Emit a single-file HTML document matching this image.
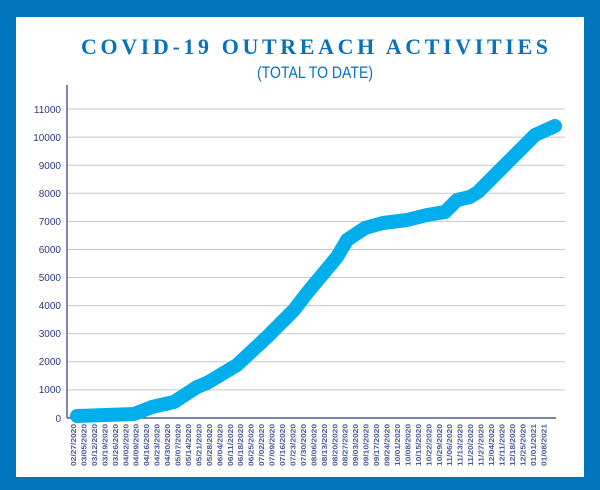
<!DOCTYPE html>
<html><head><meta charset="utf-8"><style>
body{margin:0;width:600px;height:490px;overflow:hidden;background:#0075be;}
</style></head><body>
<svg width="600" height="490" xmlns="http://www.w3.org/2000/svg" style="position:absolute;left:0;top:0">
<rect x="0" y="0" width="600" height="490" fill="#0075be"/>
<rect x="16" y="17" width="568" height="460" fill="#fff"/>
<text x="81" y="54" textLength="467" lengthAdjust="spacing" font-family="Liberation Serif, serif" font-weight="bold" font-size="22" fill="#0a72b8">COVID-19 OUTREACH ACTIVITIES</text>
<text x="257" y="78" textLength="116" lengthAdjust="spacingAndGlyphs" font-family="Liberation Sans, sans-serif" font-size="17" fill="#0a72b8">(TOTAL TO DATE)</text>
<g stroke="#c8c8c8" stroke-width="1">
<line x1="67" x2="565" y1="109" y2="109"/><line x1="67" x2="565" y1="137.1" y2="137.1"/><line x1="67" x2="565" y1="165.2" y2="165.2"/><line x1="67" x2="565" y1="193.3" y2="193.3"/><line x1="67" x2="565" y1="221.4" y2="221.4"/><line x1="67" x2="565" y1="249.5" y2="249.5"/><line x1="67" x2="565" y1="277.5" y2="277.5"/><line x1="67" x2="565" y1="305.6" y2="305.6"/><line x1="67" x2="565" y1="333.7" y2="333.7"/><line x1="67" x2="565" y1="361.8" y2="361.8"/><line x1="67" x2="565" y1="389.9" y2="389.9"/>
</g>
<line x1="67" x2="67" y1="85" y2="418" stroke="#2b3a7f" stroke-width="1.2"/>
<line x1="67" x2="556" y1="418" y2="418" stroke="#2b3a7f" stroke-width="1.2"/>
<g font-family="Liberation Sans, sans-serif" font-size="10" fill="#2b3a7f" text-anchor="end">
<text x="61" y="113">11000</text><text x="61" y="141">10000</text><text x="61" y="169">9000</text><text x="61" y="197">8000</text><text x="61" y="225">7000</text><text x="61" y="253">6000</text><text x="61" y="281">5000</text><text x="61" y="309">4000</text><text x="61" y="337">3000</text><text x="61" y="365">2000</text><text x="61" y="393">1000</text><text x="61" y="422">0</text>
</g>
<polyline fill="none" stroke="#00aeeb" stroke-width="14" stroke-linecap="round" stroke-linejoin="round" points="77,416 134,414 152,407 174,402 197,387 207,383 237,365 267,337 294,310 307,293 337,257 347,240 365,228 383,223 407,220 427,215 445,212 457,200 470,197 478,192 503,167 535,135 555,126"/>
<g font-family="Liberation Sans, sans-serif" font-size="7.5" font-weight="bold" fill="#4a5a9a" text-anchor="end" id="xl"></g>
</svg>
<script>
var d=["02/27/2020","03/05/2020","03/12/2020","03/19/2020","03/26/2020","04/02/2020","04/09/2020","04/16/2020","04/23/2020","04/30/2020","05/07/2020","05/14/2020","05/21/2020","05/28/2020","06/04/2020","06/11/2020","06/18/2020","06/25/2020","07/02/2020","07/09/2020","07/16/2020","07/23/2020","07/30/2020","08/06/2020","08/13/2020","08/20/2020","08/27/2020","09/03/2020","09/10/2020","09/17/2020","09/24/2020","10/01/2020","10/08/2020","10/15/2020","10/22/2020","10/29/2020","11/06/2020","11/13/2020","11/20/2020","11/27/2020","12/04/2020","12/11/2020","12/18/2020","12/25/2020","01/01/2021","01/08/2021"];
var g=document.getElementById('xl'),s='';
for(var i=0;i<d.length;i++){var x=76+i*10.45;s+='<text transform="translate('+x+' 424) rotate(-90)" textLength="42" lengthAdjust="spacingAndGlyphs">'+d[i]+'</text>';}
g.innerHTML=s;
</script>
</body></html>
